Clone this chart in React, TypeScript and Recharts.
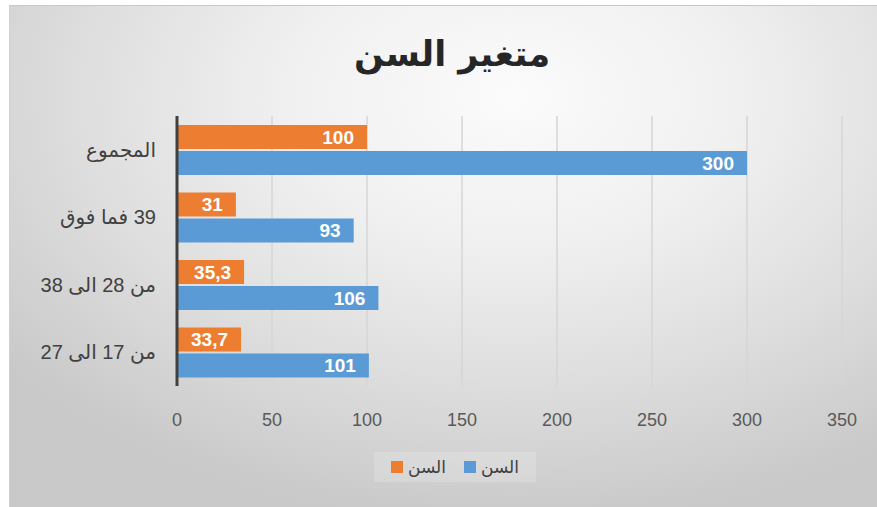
import React from 'react';
import { BarChart, Bar, XAxis, YAxis, CartesianGrid, LabelList } from 'recharts';

const title = 'متغير السن';
const categories = ['المجموع', '39 فما فوق', 'من 28  الى 38', 'من 17 الى 27'];
const countValues = [300, 93, 106, 101];
const percentValues = [100, 31, 35.3, 33.7];
const xTicks = [0, 50, 100, 150, 200, 250, 300, 350];
const countName = 'السن';
const percentName = 'السن';

const ORANGE = '#ED7D31';
const BLUE = '#5B9BD5';

const data = categories.map((c, i) => ({ cat: c, pct: percentValues[i], count: countValues[i] }));

const fmt = (v: any) => String(v).replace('.', ',');

const YTick = (props: any) => {
  const { x, y, payload } = props;
  return (
    <text
      x={x}
      y={y}
      dy={7}
      textAnchor="end"
      fill="#404040"
      fontSize={20}
      fontFamily="'Liberation Sans', 'DejaVu Sans', sans-serif"
    >
      {'\u202B' + payload.value + '\u202C'}
    </text>
  );
};

const LegendItem = ({ color, label }: { color: string; label: string }) => (
  <div style={{ display: 'flex', alignItems: 'center', gap: 5 }}>
    <div style={{ width: 12, height: 12, background: color }} />
    <span style={{ fontSize: 17, color: '#404040', fontFamily: "'DejaVu Sans', sans-serif" }}>{label}</span>
  </div>
);

export default function App() {
  return (
    <div style={{ position: 'absolute', left: 0, top: 0, width: 877, height: 507, background: '#ffffff', overflow: 'hidden' }}>
      <div
        style={{
          position: 'absolute',
          left: 9,
          top: 5,
          width: 868,
          height: 502,
          borderTop: '1px solid #c8c8c8',
          borderLeft: '1px solid #d0d0d0',
          boxSizing: 'border-box',
          background:
            'radial-gradient(ellipse 75% 85% at 58% 18%, #fbfbfb 0%, #f0f0f0 35%, #dfdfdf 65%, #c9c9c9 100%)',
        }}
      >
        <div
          style={{
            position: 'absolute',
            left: 16,
            top: 28,
            width: 852,
            textAlign: 'center',
            fontSize: 35,
            lineHeight: '40px',
            fontWeight: 'bold',
            color: '#262626',
            fontFamily: "'DejaVu Sans', sans-serif",
            direction: 'rtl',
          }}
        >
          {title}
        </div>
        <BarChart
          width={868}
          height={502}
          data={data}
          layout="vertical"
          margin={{ top: 110, right: 36, bottom: 82, left: 7 }}
          barSize={24}
          barGap={2}
        >
          <CartesianGrid horizontal={false} vertical={true} stroke="#d6d6d6" strokeWidth={1.5} />
          <XAxis
            type="number"
            domain={[0, 350]}
            ticks={xTicks}
            axisLine={false}
            tickLine={false}
            tickMargin={21}
            height={40}
            tick={{ fill: '#595959', fontSize: 18, fontFamily: "'Liberation Sans', sans-serif" }}
          />
          <YAxis
            type="category"
            dataKey="cat"
            width={160}
            tickLine={false}
            tickSize={6}
            tickMargin={15}
            axisLine={{ stroke: '#404040', strokeWidth: 3 }}
            tick={<YTick />}
          />
          <Bar dataKey="pct" name={percentName} fill={ORANGE} isAnimationActive={false}>
            <LabelList
              dataKey="pct"
              position="insideRight"
              offset={13}
              formatter={fmt}
              fill="#ffffff"
              fontSize={19}
              fontWeight="bold"
              fontFamily="'Liberation Sans', sans-serif"
            />
          </Bar>
          <Bar dataKey="count" name={countName} fill={BLUE} isAnimationActive={false}>
            <LabelList
              dataKey="count"
              position="insideRight"
              offset={13}
              formatter={fmt}
              fill="#ffffff"
              fontSize={19}
              fontWeight="bold"
              fontFamily="'Liberation Sans', sans-serif"
            />
          </Bar>
        </BarChart>
        <div
          style={{
            position: 'absolute',
            left: 364,
            top: 446,
            width: 162,
            height: 30,
            background: 'rgba(255,255,255,0.18)',
            display: 'flex',
            alignItems: 'center',
            justifyContent: 'center',
            gap: 18,
          }}
        >
          <LegendItem color={ORANGE} label={percentName} />
          <LegendItem color={BLUE} label={countName} />
        </div>
      </div>
    </div>
  );
}
